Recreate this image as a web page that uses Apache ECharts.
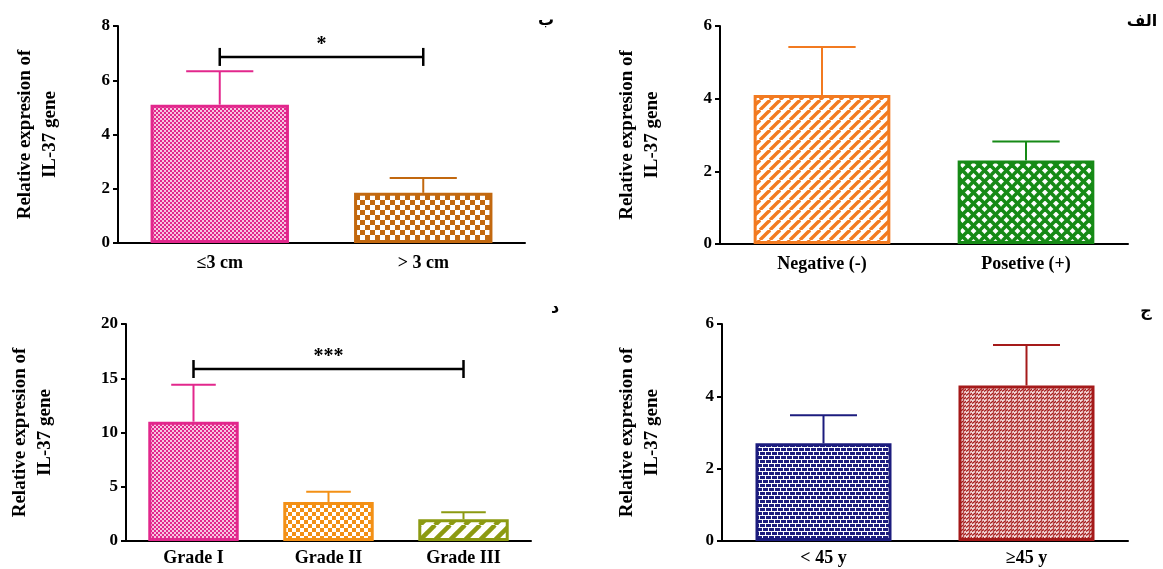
<!DOCTYPE html>
<html>
<head>
<meta charset="utf-8">
<script src="https://cdn.jsdelivr.net/npm/echarts@6/dist/echarts.min.js"></script>
<style>
html,body{margin:0;padding:0;background:#fff;}
#c{width:1163px;height:569px;}
</style>
</head>
<body>
<div id="c"></div>
<script>
// ---- Data ----
const catsB = ['≤3 cm', '> 3 cm'];
const meanB = [5.1, 1.85];
const upperB = [6.33, 2.4];

const catsA = ['Negative (-)', 'Posetive (+)'];
const meanA = [4.1, 2.3];
const upperA = [5.42, 2.82];

const catsD = ['Grade I', 'Grade II', 'Grade III'];
const meanD = [11.0, 3.6, 2.0];
const upperD = [14.4, 4.55, 2.65];

const catsJ = ['< 45 y', '≥45 y'];
const meanJ = [2.7, 4.3];
const upperJ = [3.48, 5.42];

const yTicksB = [0, 8, 2];
const yTicksA = [0, 6, 2];
const yTicksD = [0, 20, 5];
const yTicksJ = [0, 6, 2];

const sigB = [0, 1, 6.86, '*'];
const sigD = [0, 2, 15.85, '***'];

const panelLabels = ['ب', 'الف', 'د', 'ج'];
const yTitle = 'Relative expresion of\nIL-37 gene';

// ---- Patterns ----
function tile(w, h, draw) {
  const c = document.createElement('canvas');
  c.width = w; c.height = h;
  const g = c.getContext('2d');
  draw(g, w, h);
  return { image: c, repeat: 'repeat' };
}
function checker(col, s, bg) {
  return tile(2 * s, 2 * s, (g) => {
    g.fillStyle = bg; g.fillRect(0, 0, 2 * s, 2 * s);
    g.fillStyle = col; g.fillRect(0, 0, s, s); g.fillRect(s, s, s, s);
  });
}
function stripes(col, p, lw) {
  return tile(p, p, (g, w, h) => {
    g.fillStyle = '#fff'; g.fillRect(0, 0, w, h);
    g.strokeStyle = col; g.lineWidth = lw;
    for (let k = -1; k <= 1; k++) {
      g.beginPath(); g.moveTo(k * p, p); g.lineTo(k * p + p, 0); g.stroke();
    }
  });
}
function crosshatch(col, p, lw) {
  return tile(p, p, (g, w, h) => {
    g.fillStyle = '#fff'; g.fillRect(0, 0, w, h);
    g.strokeStyle = col; g.lineWidth = lw;
    g.beginPath(); g.moveTo(0, 0); g.lineTo(p, p); g.stroke();
    g.beginPath(); g.moveTo(p, 0); g.lineTo(0, p); g.stroke();
    g.fillStyle = col;
    g.beginPath(); g.arc(p / 2, p / 2, 1.5, 0, 7); g.fill();
  });
}
function brick(col) {
  return tile(6, 8, (g) => {
    g.fillStyle = col; g.fillRect(0, 0, 6, 8);
    g.fillStyle = '#fff';
    g.fillRect(0, 3, 6, 1); g.fillRect(0, 7, 6, 1);
    g.fillRect(0, 0, 1, 3); g.fillRect(3, 4, 1, 3);
  });
}
function zig(col) {
  return tile(6, 4, (g) => {
    g.fillStyle = '#f3dada'; g.fillRect(0, 0, 6, 4);
    g.strokeStyle = col; g.lineWidth = 1.4;
    g.beginPath(); g.moveTo(0, 3.5); g.lineTo(4, 0.5); g.stroke();
    g.beginPath(); g.moveTo(3, 3.5); g.lineTo(7, 0.5); g.stroke();
  });
}

const colB = ['#e2278c', '#c2680f'];
const patB = [checker('#e2278c', 2, '#f6c6e0'), checker('#c2680f', 5, '#fff')];
const colA = ['#f27a20', '#168a16'];
const patA = [stripes('#f27a20', 10, 3.4), crosshatch('#168a16', 11, 3.6)];
const colD = ['#e2278c', '#f39015', '#8c9a12'];
const patD = [checker('#e2278c', 2, '#f6c6e0'), checker('#f39015', 4, '#fff'), stripes('#8c9a12', 15, 4.5)];
const colJ = ['#1c1c7e', '#a51a1a'];
const patJ = [brick('#1c1c7e'), zig('#a51a1a')];

// ---- Chart ----
const FONT = 'Liberation Serif';
const grids = [
  { left: 118, top: 26, width: 407, height: 217 },
  { left: 720, top: 26, width: 408, height: 218 },
  { left: 126, top: 324, width: 405, height: 217 },
  { left: 722, top: 324, width: 406, height: 217 }
];
const cats = [catsB, catsA, catsD, catsJ];
const means = [meanB, meanA, meanD, meanJ];
const uppers = [upperB, upperA, upperD, upperJ];
const cols = [colB, colA, colD, colJ];
const pats = [patB, patA, patD, patJ];
const ticks = [yTicksB, yTicksA, yTicksD, yTicksJ];
const nameGaps = [55, 55, 68, 57];
const barW = ['68%', '67%', '67%', '67%'];

const xAxis = [], yAxis = [], series = [];
for (let i = 0; i < 4; i++) {
  xAxis.push({
    gridIndex: i, type: 'category', data: cats[i],
    axisLine: { lineStyle: { color: '#000', width: 2 } },
    axisTick: { alignWithLabel: true, length: 6, lineStyle: { color: '#000', width: 2 } },
    axisLabel: { color: '#000', fontFamily: FONT, fontWeight: 'bold', fontSize: 18, margin: i < 2 ? 11 : 8 }
  });
  yAxis.push({
    gridIndex: i, type: 'value', min: ticks[i][0], max: ticks[i][1], interval: ticks[i][2],
    splitLine: { show: false },
    axisLine: { show: true, lineStyle: { color: '#000', width: 2 } },
    axisTick: { show: true, length: 5, lineStyle: { color: '#000', width: 2 } },
    axisLabel: { color: '#000', fontFamily: FONT, fontWeight: 'bold', fontSize: 17, margin: 8 },
    name: yTitle, nameLocation: 'middle', nameGap: nameGaps[i], nameRotate: 90,
    nameTextStyle: { color: '#000', fontFamily: FONT, fontWeight: 'bold', fontSize: 19, lineHeight: 25, align: 'center' }
  });
  const ci = i;
  series.push({
    type: 'custom', xAxisIndex: i, yAxisIndex: i, z: 1,
    data: means[i].map((m, k) => [k, m, uppers[i][k]]),
    renderItem: function (params, api) {
      const k = api.value(0);
      const p0 = api.coord([k, api.value(1)]);
      const p1 = api.coord([k, api.value(2)]);
      const bw = api.size([1, 0])[0];
      const half = bw * 0.165;
      const c = cols[ci][k];
      return {
        type: 'group', children: [
          { type: 'line', shape: { x1: p0[0], y1: p0[1], x2: p1[0], y2: p1[1] }, style: { stroke: c, lineWidth: 2 } },
          { type: 'line', shape: { x1: p1[0] - half, y1: p1[1], x2: p1[0] + half, y2: p1[1] }, style: { stroke: c, lineWidth: 2 } }
        ]
      };
    }
  });
  series.push({
    type: 'bar', xAxisIndex: i, yAxisIndex: i, z: 2, barWidth: barW[i],
    data: means[i].map((m, k) => ({
      value: m,
      itemStyle: { color: pats[i][k], borderColor: cols[i][k], borderWidth: 3 }
    }))
  });
}
function sigSeries(idx, s) {
  return {
    type: 'custom', xAxisIndex: idx, yAxisIndex: idx, z: 3,
    data: [s],
    renderItem: function (params, api) {
      const a = api.coord([api.value(0), api.value(2)]);
      const b = api.coord([api.value(1), api.value(2)]);
      const h = 9;
      const st = { stroke: '#000', lineWidth: 2.5 };
      return {
        type: 'group', children: [
          { type: 'line', shape: { x1: a[0], y1: a[1], x2: b[0], y2: b[1] }, style: st },
          { type: 'line', shape: { x1: a[0], y1: a[1] - h, x2: a[0], y2: a[1] + h }, style: st },
          { type: 'line', shape: { x1: b[0], y1: b[1] - h, x2: b[0], y2: b[1] + h }, style: st },
          { type: 'text', style: { text: s[3], x: (a[0] + b[0]) / 2, y: a[1] - 2, align: 'center', verticalAlign: 'bottom',
            fill: '#000', font: 'bold 20px "Liberation Serif"' } }
        ]
      };
    }
  };
}
series.push(sigSeries(0, sigB));
series.push(sigSeries(2, sigD));

const labelPos = [[546, 21], [1142, 22], [555, 309], [1146, 312]];
const option = {
  animation: false,
  backgroundColor: '#fff',
  grid: grids,
  xAxis: xAxis,
  yAxis: yAxis,
  series: series,
  graphic: panelLabels.map((t, i) => ({
    type: 'text', x: labelPos[i][0], y: labelPos[i][1],
    style: { text: t, fill: '#000', font: 'bold 16px "DejaVu Sans"', align: 'center', verticalAlign: 'middle' }
  }))
};
const chart = echarts.init(document.getElementById('c'), null, { renderer: 'canvas' });
chart.setOption(option);
</script>
</body>
</html>
